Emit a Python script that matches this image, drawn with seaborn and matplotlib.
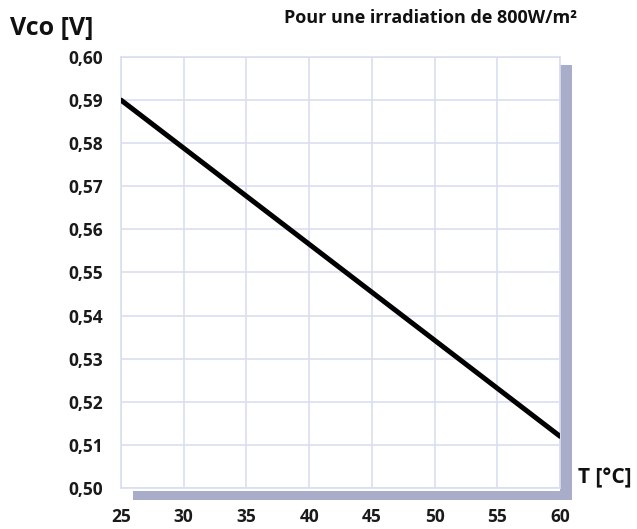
import matplotlib
matplotlib.use("Agg")
import matplotlib.pyplot as plt
from matplotlib.patches import Rectangle
import seaborn as sns
import pandas as pd

# Open-circuit voltage vs. cell temperature at 800 W/m²
temperature = [25, 60]
voc = [0.590, 0.512]

x_ticks = [25, 30, 35, 40, 45, 50, 55, 60]
y_ticks = [0.50, 0.51, 0.52, 0.53, 0.54, 0.55, 0.56, 0.57, 0.58, 0.59, 0.60]
y_tick_labels = ["0,50", "0,51", "0,52", "0,53", "0,54", "0,55",
                 "0,56", "0,57", "0,58", "0,59", "0,60"]

df = pd.DataFrame({"T": temperature, "Vco": voc})

sns.set_theme(style="white")
plt.rcParams["font.family"] = ["Open Sans", "DejaVu Sans"]

fig = plt.figure(figsize=(6.37, 5.29), dpi=100)
ax = fig.add_axes([121 / 637, 41 / 529, 439 / 637, 431 / 529])

grid_col = "#dadef0"
shadow_col = "#a9adc9"

sns.lineplot(data=df, x="T", y="Vco", ax=ax, color="black", linewidth=3.6,
             solid_capstyle="round", zorder=5)

ax.set_xlim(25, 60)
ax.set_ylim(0.50, 0.60)
ax.set_xticks(x_ticks)
ax.set_xticklabels([str(t) for t in x_ticks])
ax.set_yticks(y_ticks)
ax.set_yticklabels(y_tick_labels)
ax.grid(True, color=grid_col, linewidth=1.2)
ax.set_axisbelow(True)
for s in ax.spines.values():
    s.set_color(grid_col)
    s.set_linewidth(1.2)
ax.tick_params(axis="both", length=0, labelsize=12.5, colors="#1a1a1a")
ax.tick_params(axis="y", pad=13)
ax.tick_params(axis="x", pad=14.5)
for lab in ax.get_xticklabels() + ax.get_yticklabels():
    lab.set_fontweight("bold")
ax.set_xlabel("")
ax.set_ylabel("")

# drop shadow along the right and bottom edges of the plot area
ax.add_patch(Rectangle((1.0, -0.028), 0.0273, 1.009, transform=ax.transAxes,
                       facecolor=shadow_col, edgecolor="none", clip_on=False, zorder=1))
ax.add_patch(Rectangle((0.0273, -0.028), 1.0, 0.021, transform=ax.transAxes,
                       facecolor=shadow_col, edgecolor="none", clip_on=False, zorder=1))

fig.text(10 / 637, 1 - 28 / 529, "Vco [V]", fontsize=18, fontweight="bold",
         va="center", ha="left", color="#111111")
fig.text(577 / 637, 1 - 18 / 529, "Pour une irradiation de 800W/m²", fontsize=13,
         fontweight="bold", va="center", ha="right", color="#111111")
fig.text(578 / 637, 1 - 478 / 529, "T [°C]", fontsize=15, fontweight="bold",
         va="center", ha="left", color="#111111")

fig.savefig("out.png", dpi=100, facecolor="white")
